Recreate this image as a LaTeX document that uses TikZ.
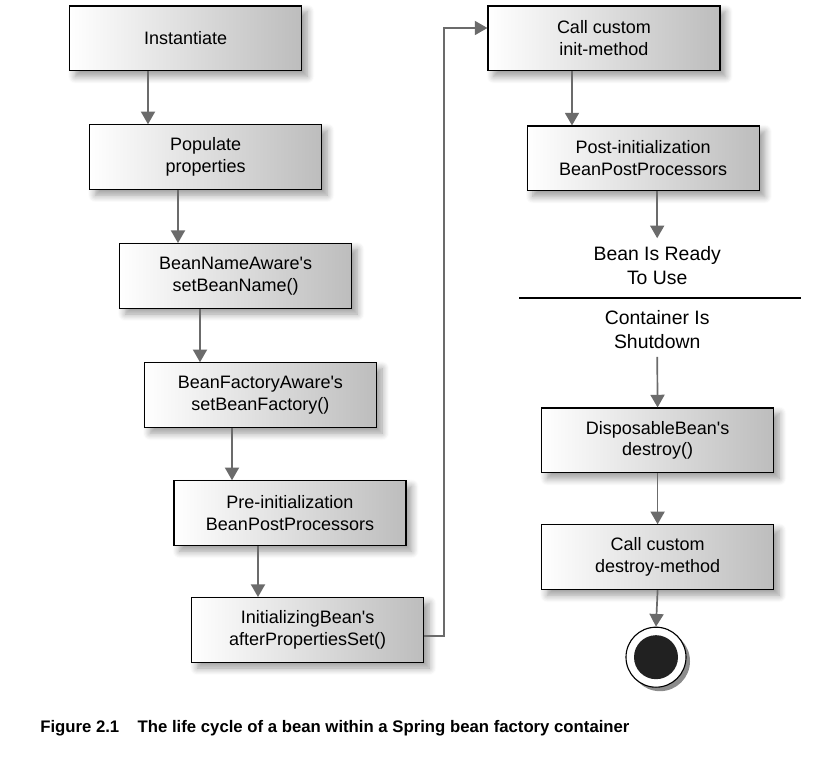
\documentclass[tikz,border=0pt]{standalone}
\usepackage{fontspec}
\setmainfont{Liberation Sans}
\usetikzlibrary{shadows.blur,arrows.meta}

\tikzset{
  stage/.style={draw=black, line width=0.8pt, left color=white, right color=black!26,
    minimum width=5.8cm, minimum height=1.62cm, align=center,
    font=\fontsize{12.8}{15.5}\selectfont,
    blur shadow={shadow xshift=4pt, shadow yshift=-4pt, shadow blur steps=8, shadow blur radius=5pt}},
  state/.style={align=center, font=\fontsize{13.8}{17}\selectfont, inner sep=6pt},
  flow/.style={draw=black!58, line width=1.2pt, -{Triangle[length=9pt,width=10pt]}}
}

\begin{document}
\begin{tikzpicture}
    \useasboundingbox (0,0) rectangle (20.8,-18.975);
    % left column
    \node[stage] (inst) at (4.64,-0.96) {Instantiate};
    \node[stage] (pop) at (5.14,-3.93) {Populate\\properties};
    \node[stage] (bna) at (5.89,-6.9) {BeanNameAware\textquotesingle s\\setBeanName()};
    \node[stage] (bfa) at (6.51,-9.88) {BeanFactoryAware\textquotesingle s\\setBeanFactory()};
    \node[stage] (pre) at (7.25,-12.83) {Pre-initialization\\BeanPostProcessors};
    \node[stage] (ini) at (7.69,-15.75) {InitializingBean\textquotesingle s\\afterPropertiesSet()};
    % right column
    \node[stage] (init) at (15.1,-0.96) {Call custom\\init-method};
    \node[stage] (post) at (16.08,-3.96) {Post-initialization\\BeanPostProcessors};
    \node[state] (ready) at (16.43,-6.65) {Bean Is Ready\\To Use};
    \node[state] (shut) at (16.43,-8.23) {Container Is\\Shutdown};
    \node[stage] (disp) at (16.44,-11.01) {DisposableBean\textquotesingle s\\destroy()};
    \node[stage] (destr) at (16.44,-13.93) {Call custom\\destroy-method};
    \draw[line width=0.8pt] (12.98,-7.45) -- (20.03,-7.45);
    % final state
    \fill[black!45] (16.5,-16.53) circle (0.75);
    \node[circle, draw=black, line width=0.8pt, fill=white, minimum size=1.5cm] (end) at (16.4,-16.43) {};
    \fill[black!87] (end) circle (0.55);
    % arrows
    \draw[flow] ([xshift=-0.94cm]inst.south) -- ([xshift=-0.94cm]inst.south |- pop.north);
    \draw[flow] ([xshift=-0.69cm]pop.south) -- ([xshift=-0.69cm]pop.south |- bna.north);
    \draw[flow] ([xshift=-0.89cm]bna.south) -- ([xshift=-0.89cm]bna.south |- bfa.north);
    \draw[flow] ([xshift=-0.71cm]bfa.south) -- ([xshift=-0.71cm]bfa.south |- pre.north);
    \draw[flow] ([xshift=-0.8cm]pre.south) -- ([xshift=-0.8cm]pre.south |- ini.north);
    \draw[flow] ([yshift=-0.15cm]ini.east) -- ++(0.5,0) |- ([yshift=0.26cm]init.west);
    \draw[flow] ([xshift=-0.8cm]init.south) -- ([xshift=-0.8cm]init.south |- post.north);
    \draw[flow] (post.south -| ready.north) -- (ready.north);
    \draw[flow] (shut.south) -- (disp.north);
    \draw[flow] (disp.south) -- (destr.north);
    \draw[flow] (destr.south) -- (end.north);
    % caption
    \node[anchor=west, font=\bfseries\fontsize{11.9}{14}\selectfont, inner sep=0pt] (cap) at (1.0,-18.2)
      {Figure 2.1\hspace{1.1em}The life cycle of a bean within a Spring bean factory container};
\end{tikzpicture}
\end{document}
